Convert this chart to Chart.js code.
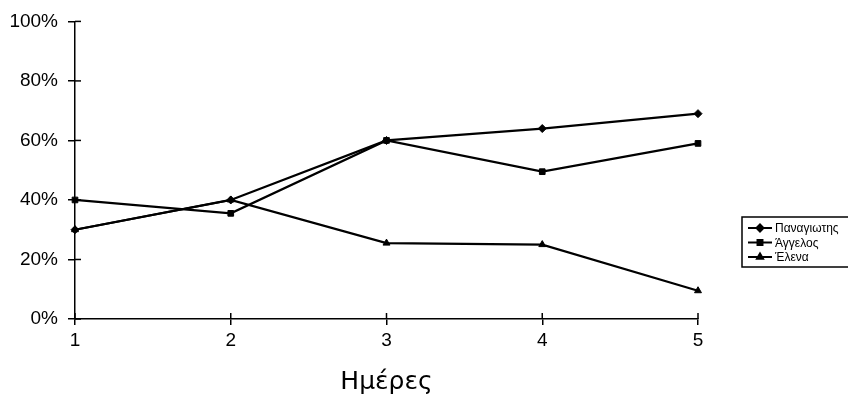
<!DOCTYPE html>
<html>
<head>
<meta charset="utf-8">
<script src="https://cdn.jsdelivr.net/npm/chart.js@4"></script>
<style>
  html, body { margin: 0; padding: 0; background: #fff; }
  #wrap { width: 848px; height: 401px; }
</style>
</head>
<body>
<div id="wrap"><canvas id="myChart" width="848" height="401"></canvas></div>
<script>
const days = ['1', '2', '3', '4', '5'];
const panagiotis = [30, 40, 60, 64, 69];
const aggelos = [40, 35.5, 60, 49.5, 59];
const elena = [30, 40, 25.5, 25, 9.5];
const yTicks = [0, 20, 40, 60, 80, 100];

// small ticks that also reach into the plot, like the scanned chart
const crossTicks = {
  id: 'crossTicks',
  afterDraw(chart) {
    const ctx = chart.ctx;
    const area = chart.chartArea;
    const x = chart.scales.x;
    const y = chart.scales.y;
    ctx.save();
    ctx.strokeStyle = '#000';
    ctx.lineWidth = 1.5;
    yTicks.forEach((v) => {
      const py = y.getPixelForValue(v);
      ctx.beginPath();
      ctx.moveTo(area.left, py);
      ctx.lineTo(area.left + 6, py);
      ctx.stroke();
    });
    days.forEach((d, i) => {
      const px = x.getPixelForValue(i);
      ctx.beginPath();
      ctx.moveTo(px, area.bottom);
      ctx.lineTo(px, area.bottom - 6);
      ctx.stroke();
    });
    ctx.restore();
  }
};

// boxed legend to the right of the plot
const boxLegend = {
  id: 'boxLegend',
  afterDraw(chart) {
    const ctx = chart.ctx;
    const left = 742, top = 217, w = 110, h = 50;
    ctx.save();
    ctx.strokeStyle = '#000';
    ctx.lineWidth = 1.5;
    ctx.strokeRect(left, top, w, h);
    ctx.font = '12px "Liberation Sans", Arial, sans-serif';
    ctx.textBaseline = 'middle';
    ctx.fillStyle = '#000';
    chart.data.datasets.forEach((ds, i) => {
      const cy = top + 11 + i * 14.5;
      ctx.lineWidth = 2;
      ctx.beginPath();
      ctx.moveTo(left + 6, cy);
      ctx.lineTo(left + 30, cy);
      ctx.stroke();
      Chart.helpers.drawPoint(ctx, {
        pointStyle: ds.pointStyle,
        radius: 3.5,
        rotation: 0,
        borderWidth: 1
      }, left + 18, cy);
      ctx.fillText(ds.label, left + 33, cy + 1);
    });
    ctx.restore();
  }
};

window.onload = function () {
  const ctx = document.getElementById('myChart').getContext('2d');
  const common = {
    borderColor: '#000',
    backgroundColor: '#000',
    borderWidth: 2.2,
    pointRadius: 4,
    pointBorderWidth: 1,
    tension: 0
  };

  new Chart(ctx, {
    type: 'line',
    data: {
      labels: days,
      datasets: [
        { ...common, label: 'Παναγιωτης', data: panagiotis, pointStyle: 'rectRot' },
        { ...common, label: 'Άγγελος', data: aggelos, pointStyle: 'rect' },
        { ...common, label: 'Έλενα', data: elena, pointStyle: 'triangle' }
      ]
    },
    options: {
      responsive: false,
      animation: false,
      layout: { padding: { top: 20, right: 150, left: 0, bottom: 0 } },
      plugins: {
        legend: { display: false },
        tooltip: { enabled: false }
      },
      scales: {
        x: {
          grid: {
            drawOnChartArea: false,
            color: '#000',
            lineWidth: 1.5,
            tickLength: 6
          },
          border: { color: '#000', width: 1.5 },
          ticks: {
            color: '#000',
            padding: 4,
            maxRotation: 0,
            font: { family: '"Liberation Sans", Arial, sans-serif', size: 19 }
          },
          title: {
            display: true,
            text: 'Ημέρες',
            color: '#000',
            padding: { top: 4, bottom: 4 },
            font: { family: '"DejaVu Sans", Verdana, sans-serif', size: 25 }
          },
          afterFit(scale) { scale.height = 82; }
        },
        y: {
          min: 0,
          max: 100,
          afterBuildTicks(scale) {
            scale.ticks = yTicks.map((v) => ({ value: v }));
          },
          grid: {
            drawOnChartArea: false,
            color: '#000',
            lineWidth: 1.5,
            tickLength: 7
          },
          border: { color: '#000', width: 1.5 },
          ticks: {
            color: '#000',
            padding: 10,
            callback: (v) => v + '%',
            font: { family: '"Liberation Sans", Arial, sans-serif', size: 19 }
          },
          afterFit(scale) { scale.width = 75; }
        }
      }
    },
    plugins: [crossTicks, boxLegend]
  });
};
</script>
</body>
</html>
